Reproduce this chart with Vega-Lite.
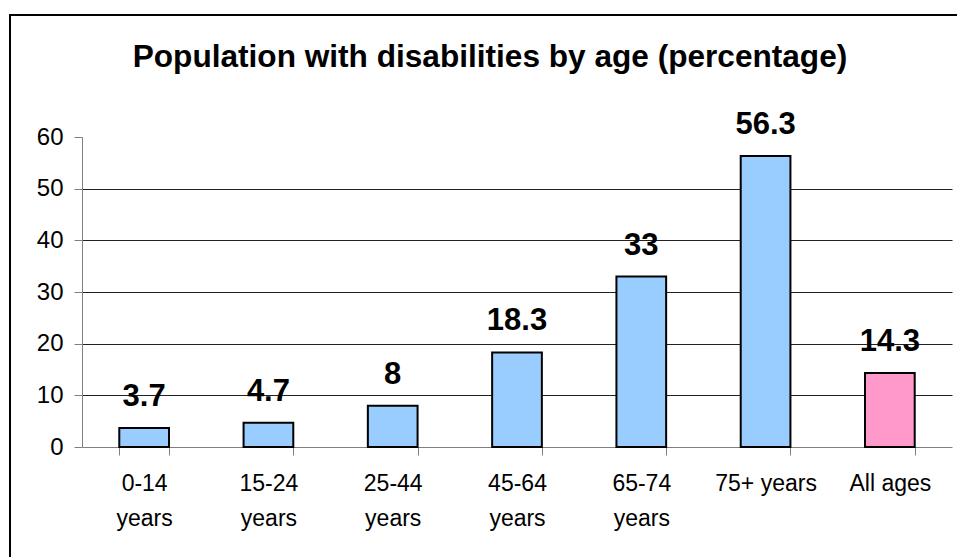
{
  "$schema": "https://vega.github.io/schema/vega-lite/v6.json",
  "autosize": {"type": "none"},
  "padding": {"left": 10, "top": 15, "right": 0, "bottom": 0},
  "width": 960,
  "height": 550,
  "background": "#ffffff",
  "title": {
    "text": "Population with disabilities by age (percentage)",
    "font": "Liberation Sans",
    "fontSize": 31.6,
    "fontWeight": "bold",
    "color": "#000000",
    "anchor": "middle",
    "baseline": "alphabetic",
    "offset": -84
  },
  "config": {
    "view": {"stroke": "#000000", "strokeWidth": 2},
    "font": "Liberation Sans"
  },
  "data": {
    "values": [
      {"age": "0-14 years", "pct": 3.7, "group": "age band"},
      {"age": "15-24 years", "pct": 4.7, "group": "age band"},
      {"age": "25-44 years", "pct": 8, "group": "age band"},
      {"age": "45-64 years", "pct": 18.3, "group": "age band"},
      {"age": "65-74 years", "pct": 33, "group": "age band"},
      {"age": "75+ years", "pct": 56.3, "group": "age band"},
      {"age": "All ages", "pct": 14.3, "group": "total"}
    ]
  },
  "encoding": {
    "x": {
      "field": "age",
      "type": "nominal",
      "sort": null,
      "scale": {"range": [72, 942], "paddingInner": 0.6, "paddingOuter": 0.3},
      "axis": {
        "title": null,
        "offset": -118,
        "labelAngle": 0,
        "labelFont": "Liberation Sans",
        "labelFontSize": 23,
        "labelColor": "#000000",
        "labelPadding": 17,
        "labelLineHeight": 35,
        "labelExpr": "indexof(datum.label, '-') >= 0 ? split(datum.label, ' ') : datum.label",
        "tickBand": "extent",
        "tickSize": 8,
        "tickColor": "#808080",
        "domainColor": "#808080",
        "grid": false
      }
    },
    "y": {
      "field": "pct",
      "type": "quantitative",
      "scale": {"domain": [0, 60], "range": [432, 122], "nice": false},
      "axis": {
        "title": null,
        "offset": -72,
        "values": [0, 10, 20, 30, 40, 50, 60],
        "labelFont": "Liberation Sans",
        "labelFontSize": 24,
        "labelColor": "#000000",
        "labelPadding": 11,
        "tickSize": 8,
        "tickColor": "#808080",
        "domainColor": "#808080",
        "grid": true,
        "gridColor": "#222222",
        "gridOpacity": {"condition": {"test": "datum.value == 0 || datum.value == 60", "value": 0}, "value": 1}
      }
    }
  },
  "layer": [
    {
      "mark": {"type": "bar", "stroke": "#000000", "strokeWidth": 2},
      "encoding": {
        "color": {
          "field": "group",
          "type": "nominal",
          "scale": {"domain": ["age band", "total"], "range": ["#99ccff", "#ff99cc"]},
          "legend": null
        }
      }
    },
    {
      "mark": {
        "type": "text",
        "font": "Liberation Sans",
        "fontSize": 31,
        "fontWeight": "bold",
        "baseline": "alphabetic",
        "dy": -22,
        "color": "#000000"
      },
      "encoding": {"text": {"field": "pct", "type": "quantitative"}}
    }
  ]
}
